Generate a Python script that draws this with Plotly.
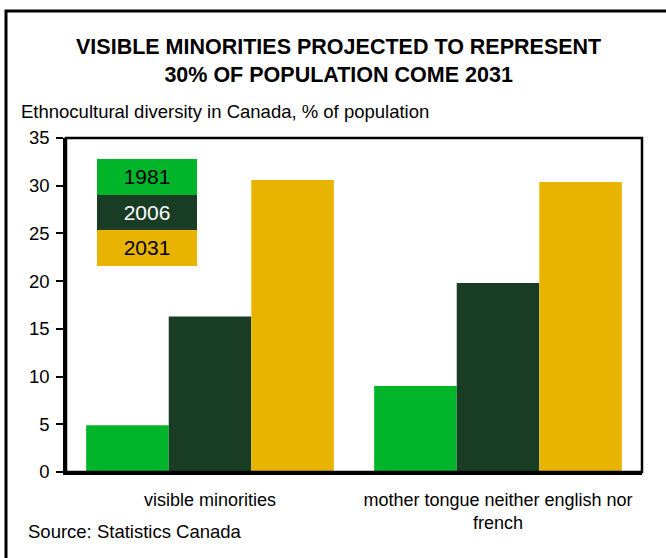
import plotly.graph_objects as go

categories = ["visible minorities", "mother tongue neither english nor<br>french"]
years = ["1981", "2006", "2031"]
values_1981 = [4.9, 9.0]
values_2006 = [16.3, 19.8]
values_2031 = [30.6, 30.4]
colors = ["#00B52A", "#193D24", "#E8B400"]
text_colors = ["black", "white", "black"]
y_ticks = [0, 5, 10, 15, 20, 25, 30, 35]

FONT = "Liberation Sans, Arial, sans-serif"

W, H = 666, 558
L, R, T, B = 66, 642, 138, 472  # plot area pixel bounds


def px(x):
    return (x - L) / (R - L)


def py(y):
    return (B - y) / (B - T)


fig = go.Figure()
for yr, vals, c in zip(years, [values_1981, values_2006, values_2031], colors):
    fig.add_trace(go.Bar(x=categories, y=vals, name=yr, marker=dict(color=c, line=dict(width=0)),
                         showlegend=False))

annotations = []
# custom legend
row_tops = [159, 194.5, 230]
for yr, c, tc, top in zip(years, colors, text_colors, row_tops):
    annotations.append(dict(
        text=yr, xref="paper", yref="paper", x=px(97), y=py(top), xanchor="left", yanchor="top",
        showarrow=False, bgcolor=c, width=100, height=35.5, borderpad=0, borderwidth=0,
        font=dict(family=FONT, size=21, color=tc), align="center", valign="middle"))

annotations.append(dict(
    text="<b>VISIBLE MINORITIES PROJECTED TO REPRESENT<br>30% OF POPULATION COME 2031</b>",
    xref="paper", yref="paper", x=px(338), y=py(61), xanchor="center", yanchor="middle",
    showarrow=False, font=dict(family=FONT, size=21.5, color="black"), align="center"))
annotations.append(dict(
    text="Ethnocultural diversity in Canada, % of population",
    xref="paper", yref="paper", x=px(19), y=py(112), xanchor="left", yanchor="middle",
    showarrow=False, font=dict(family=FONT, size=18.5, color="black")))
annotations.append(dict(
    text="Source: Statistics Canada",
    xref="paper", yref="paper", x=px(26), y=py(531), xanchor="left", yanchor="middle",
    showarrow=False, font=dict(family=FONT, size=18.5, color="black")))

shapes = [
    # outer frame (cut off on right and bottom)
    dict(type="rect", xref="paper", yref="paper", x0=px(6), x1=px(680), y0=py(11), y1=py(580),
         line=dict(color="black", width=3), fillcolor="rgba(0,0,0,0)", layer="below"),
    # plot frame
    dict(type="rect", xref="paper", yref="paper", x0=0, x1=1, y0=0, y1=1,
         line=dict(color="black", width=2.5), fillcolor="rgba(0,0,0,0)", layer="above"),
]

fig.update_layout(
    width=W, height=H,
    margin=dict(l=L, r=W - R, t=T, b=H - B, pad=0),
    paper_bgcolor="white", plot_bgcolor="white",
    barmode="group", bargap=0.14, bargroupgap=0,
    font=dict(family=FONT, size=18, color="black"),
    annotations=annotations, shapes=shapes,
    xaxis=dict(showgrid=False, showline=True, linecolor="black", linewidth=3, ticks="",
               tickfont=dict(family=FONT, size=18), ticklabelstandoff=9, fixedrange=True),
    yaxis=dict(range=[0, 35], tickvals=y_ticks, showgrid=False, zeroline=False, showline=True,
               linecolor="black", linewidth=2.5, ticks="outside", ticklen=7, tickwidth=2,
               tickcolor="black", tickfont=dict(family=FONT, size=18.5), ticklabelstandoff=3,
               fixedrange=True),
)

fig.write_html("out.html")
